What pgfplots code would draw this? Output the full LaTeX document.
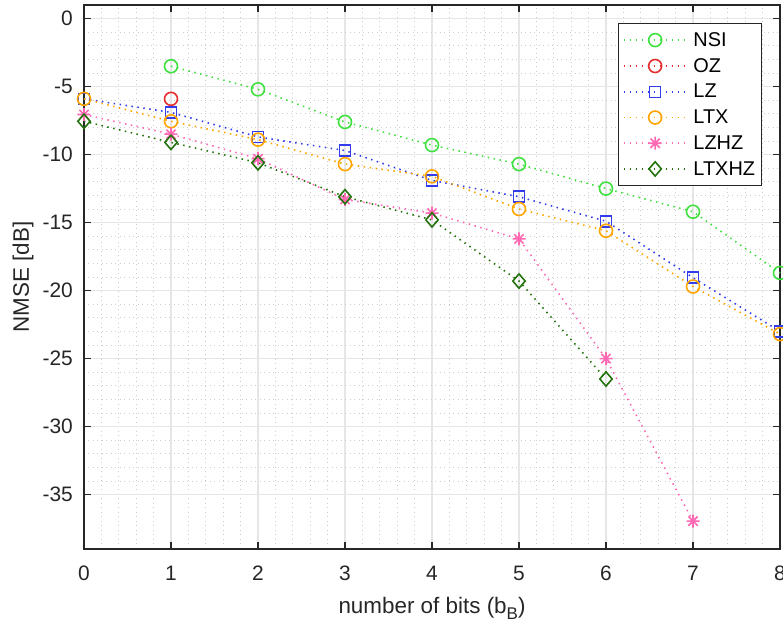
\documentclass[border=0pt]{standalone}
\usepackage{pgfplots}
\pgfplotsset{compat=1.18}
\usepackage{fontspec}
\setmainfont{Liberation Sans}
\usetikzlibrary{plotmarks}
\definecolor{cNSI}{RGB}{64,224,64}
\definecolor{cOZ}{RGB}{230,45,45}
\definecolor{cLZ}{RGB}{51,60,235}
\definecolor{cLTX}{RGB}{255,165,0}
\definecolor{cLZHZ}{RGB}{255,105,180}
\definecolor{cLTXHZ}{RGB}{36,115,14}
\definecolor{axcol}{RGB}{38,38,38}
\definecolor{gridmaj}{RGB}{230,230,230}
\definecolor{gridmin}{RGB}{205,205,205}
\pgfdeclareplotmark{ast8}{%
  \pgfpathmoveto{\pgfqpoint{-\pgfplotmarksize}{0pt}}\pgfpathlineto{\pgfqpoint{\pgfplotmarksize}{0pt}}%
  \pgfpathmoveto{\pgfqpoint{0pt}{-\pgfplotmarksize}}\pgfpathlineto{\pgfqpoint{0pt}{\pgfplotmarksize}}%
  \pgfpathmoveto{\pgfqpoint{-0.707\pgfplotmarksize}{-0.707\pgfplotmarksize}}\pgfpathlineto{\pgfqpoint{0.707\pgfplotmarksize}{0.707\pgfplotmarksize}}%
  \pgfpathmoveto{\pgfqpoint{-0.707\pgfplotmarksize}{0.707\pgfplotmarksize}}\pgfpathlineto{\pgfqpoint{0.707\pgfplotmarksize}{-0.707\pgfplotmarksize}}%
  \pgfusepathqstroke}
\pgfdeclareplotmark{dmd}{%
  \pgfpathmoveto{\pgfqpoint{0pt}{1.1\pgfplotmarksize}}%
  \pgfpathlineto{\pgfqpoint{0.95\pgfplotmarksize}{0pt}}%
  \pgfpathlineto{\pgfqpoint{0pt}{-1.1\pgfplotmarksize}}%
  \pgfpathlineto{\pgfqpoint{-0.95\pgfplotmarksize}{0pt}}%
  \pgfpathclose\pgfusepathqstroke}
\begin{document}
\begin{tikzpicture}
\begin{axis}[
  scale only axis, width=696bp, height=544bp,
  xmin=0, xmax=8, ymin=-39, ymax=1,
  xtick={0,1,...,8}, ytick={-35,-30,...,0},
  minor x tick num=4, minor y tick num=4,
  grid=both,
  major grid style={color=gridmaj, line width=1.3bp},
  minor grid style={color=gridmin, line width=0.7bp, dash pattern=on 1bp off 3.5bp},
  axis line style={color=axcol, line width=1.1bp},
  tick align=inside, tick pos=both,
  major tick length=7bp, minor tick length=0pt,
  tick style={color=axcol, line width=1.1bp},
  tick label style={font=\fontsize{21}{24}\selectfont, text=axcol},
  label style={font=\fontsize{22.5}{26}\selectfont, text=axcol},
  /pgf/number format/assume math mode=true,
  xticklabel style={anchor=base, yshift=-31bp},
  yticklabel style={anchor=east, inner sep=0pt, xshift=-11bp},
  xlabel={number of bits (b\raisebox{-6bp}{\fontsize{17}{17}\selectfont B})},
  ylabel={NMSE [dB]},
  xlabel style={at={(axis description cs:0.5,0)}, anchor=base, yshift=-64bp},
  ylabel style={at={(axis description cs:-0.0876,0.5)}, anchor=center},
  clip=false,
  every axis plot/.append style={line width=1.6bp, dash pattern=on 1.5bp off 4.5bp, mark options={solid, line width=1.6bp}},
  mark size=6.5bp,
  legend cell align=left,
  legend style={at={(0.9741,0.9669)}, anchor=north east, draw=axcol, line width=0.8bp, fill=white,
    font=\fontsize{20}{23}\selectfont,
    inner xsep=4.5bp, inner ysep=7bp, row sep=6.5bp, column sep=4bp, nodes={inner sep=2bp}},
  legend image code/.code={\draw[mark repeat=2,mark phase=2,#1] plot coordinates {(0bp,0bp) (31.5bp,0bp) (63bp,0bp)};},
]
\addplot[color=cNSI, mark=o] coordinates {(1,-3.5) (2,-5.2) (3,-7.6) (4,-9.3) (5,-10.7) (6,-12.5) (7,-14.2) (8,-18.7)};
\addlegendentry{NSI}
\addplot[color=cOZ, mark=o] coordinates {(1,-5.9)};
\addlegendentry{OZ}
\addplot[color=cLZ, mark=square, mark size=5.5bp] coordinates {(0,-5.9) (1,-6.9) (2,-8.7) (3,-9.7) (4,-11.9) (5,-13.1) (6,-14.9) (7,-19.05) (8,-23.0)};
\addlegendentry{LZ}
\addplot[color=cLTX, mark=o] coordinates {(0,-5.9) (1,-7.55) (2,-8.9) (3,-10.7) (4,-11.6) (5,-14.0) (6,-15.6) (7,-19.7) (8,-23.2)};
\addlegendentry{LTX}
\addplot[color=cLZHZ, mark=ast8] coordinates {(0,-7.05) (1,-8.5) (2,-10.3) (3,-13.3) (4,-14.3) (5,-16.2) (6,-25.0) (7,-36.95)};
\addlegendentry{LZHZ}
\addplot[color=cLTXHZ, mark=dmd] coordinates {(0,-7.55) (1,-9.1) (2,-10.6) (3,-13.1) (4,-14.8) (5,-19.3) (6,-26.5)};
\addlegendentry{LTXHZ}
\end{axis}
\pgfresetboundingbox
\path ([shift={(-84bp,-77bp)}]current axis.south west) rectangle ([shift={(3bp,5bp)}]current axis.north east);
\end{tikzpicture}
\end{document}
